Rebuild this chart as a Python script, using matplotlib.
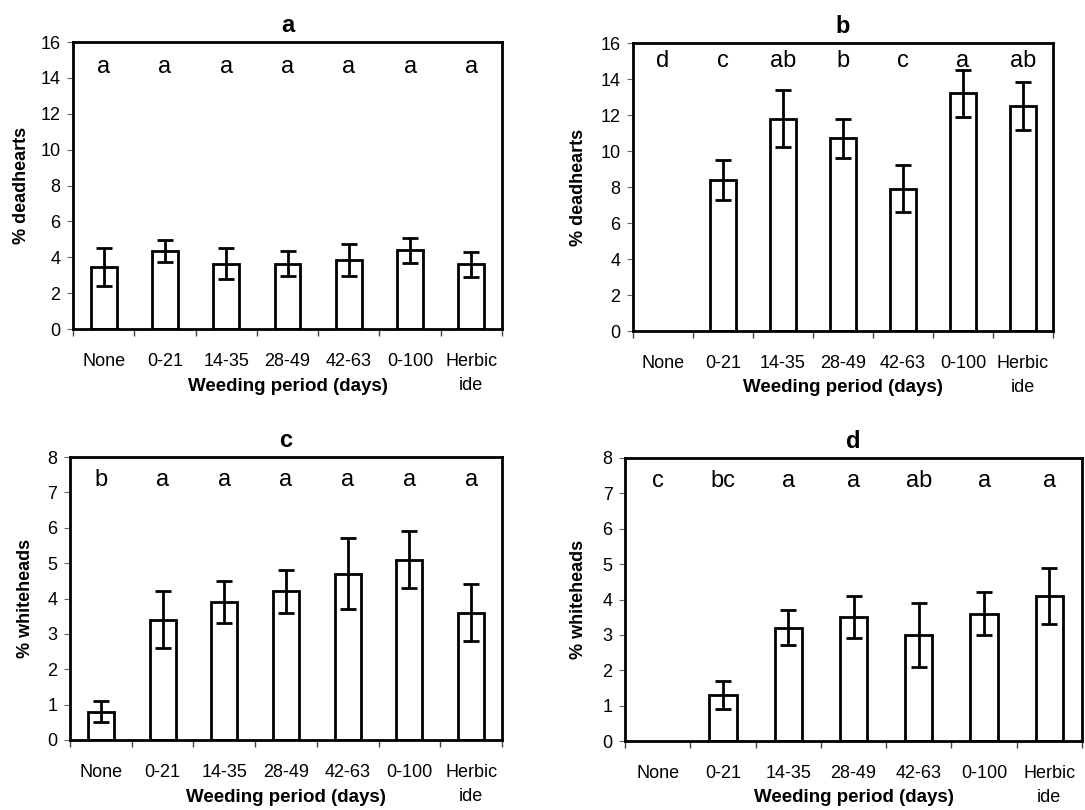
import matplotlib
matplotlib.use("Agg")
import matplotlib.pyplot as plt
import matplotlib.transforms as mtrans
import numpy as np

plt.rcParams['font.family'] = ['Liberation Sans', 'DejaVu Sans']

categories = ["None", "0-21", "14-35", "28-49", "42-63", "0-100", "Herbic\nide"]

a_vals = [3.45, 4.35, 3.65, 3.65, 3.83, 4.4, 3.62]
a_err = [1.05, 0.63, 0.85, 0.7, 0.9, 0.7, 0.7]
a_letters = ["a", "a", "a", "a", "a", "a", "a"]

b_vals = [0, 8.4, 11.8, 10.7, 7.9, 13.2, 12.5]
b_err = [0, 1.1, 1.6, 1.1, 1.3, 1.3, 1.35]
b_letters = ["d", "c", "ab", "b", "c", "a", "ab"]

c_vals = [0.8, 3.4, 3.9, 4.2, 4.7, 5.1, 3.6]
c_err = [0.3, 0.8, 0.6, 0.6, 1.0, 0.8, 0.8]
c_letters = ["b", "a", "a", "a", "a", "a", "a"]

d_vals = [0, 1.3, 3.2, 3.5, 3.0, 3.6, 4.1]
d_err = [0, 0.4, 0.5, 0.6, 0.9, 0.6, 0.8]
d_letters = ["c", "bc", "a", "a", "ab", "a", "a"]

W, H = 1085, 810
fig = plt.figure(figsize=(W / 100, H / 100), dpi=100)

def px_axes(l, r, t, b):
    return fig.add_axes([l / W, (H - b) / H, (r - l) / W, (b - t) / H])

panels = [
    ("a", (73, 502, 42, 329), a_vals, a_err, a_letters, 16, 2, 14.6, "% deadhearts", 55),
    ("b", (633, 1053, 43, 331), b_vals, b_err, b_letters, 16, 2, 15.0, "% deadhearts", 58),
    ("c", (70, 502, 457, 740), c_vals, c_err, c_letters, 8, 1, 7.35, "% whiteheads", 48),
    ("d", (625, 1082, 458, 741), d_vals, d_err, d_letters, 8, 1, 7.35, "% whiteheads", 50),
]

for title, box, vals, errs, letters, ymax, ystep, ylet, ylabel, ylab_off in panels:
    ax = px_axes(*box)
    l, r, t, b = box
    x = np.arange(len(categories))
    vals_plot = [v if v > 0 else np.nan for v in vals]
    errs_plot = [e if v > 0 else 0 for v, e in zip(vals, errs)]
    ax.bar(x, vals_plot, width=0.42, color="white", edgecolor="black", linewidth=2, zorder=2)
    ax.errorbar(x, vals_plot, yerr=errs_plot, fmt="none", ecolor="black",
                elinewidth=2, capsize=6, capthick=2, zorder=3)
    for xi, lt in zip(x, letters):
        ax.text(xi, ylet, lt, ha="center", va="center", fontsize=17)
    ax.set_xlim(-0.5, len(categories) - 0.5)
    ax.set_ylim(0, ymax)
    ax.set_yticks(np.arange(0, ymax + 0.1, ystep))
    ax.set_xticks(x)
    ax.set_xticklabels(categories, fontsize=13, linespacing=1.55)
    ax.set_xticks(np.arange(-0.5, len(categories)), minor=True)
    ax.tick_params(axis="x", which="major", length=0, pad=17)
    ax.tick_params(axis="x", which="minor", length=5, width=1, direction="out", color="#444444")
    ax.tick_params(axis="y", length=4, width=0.8, direction="out", color="#666666",
                   labelsize=13, pad=5)
    for sp in ax.spines.values():
        sp.set_linewidth(2)
        sp.set_color("black")
    ax.set_title(title, fontsize=17, fontweight="bold", pad=7)
    ax.set_ylabel(ylabel, fontsize=13, fontweight="bold")
    ax.yaxis.set_label_coords(-(ylab_off - 12) / (r - l), 0.5)
    tr = mtrans.offset_copy(ax.transAxes, fig=fig, x=0, y=-57 * 0.72, units="points")
    ax.text(0.5, 0, "Weeding period (days)", transform=tr, ha="center", va="center",
            fontsize=13.5, fontweight="bold")

fig.savefig("out.png", dpi=100)
